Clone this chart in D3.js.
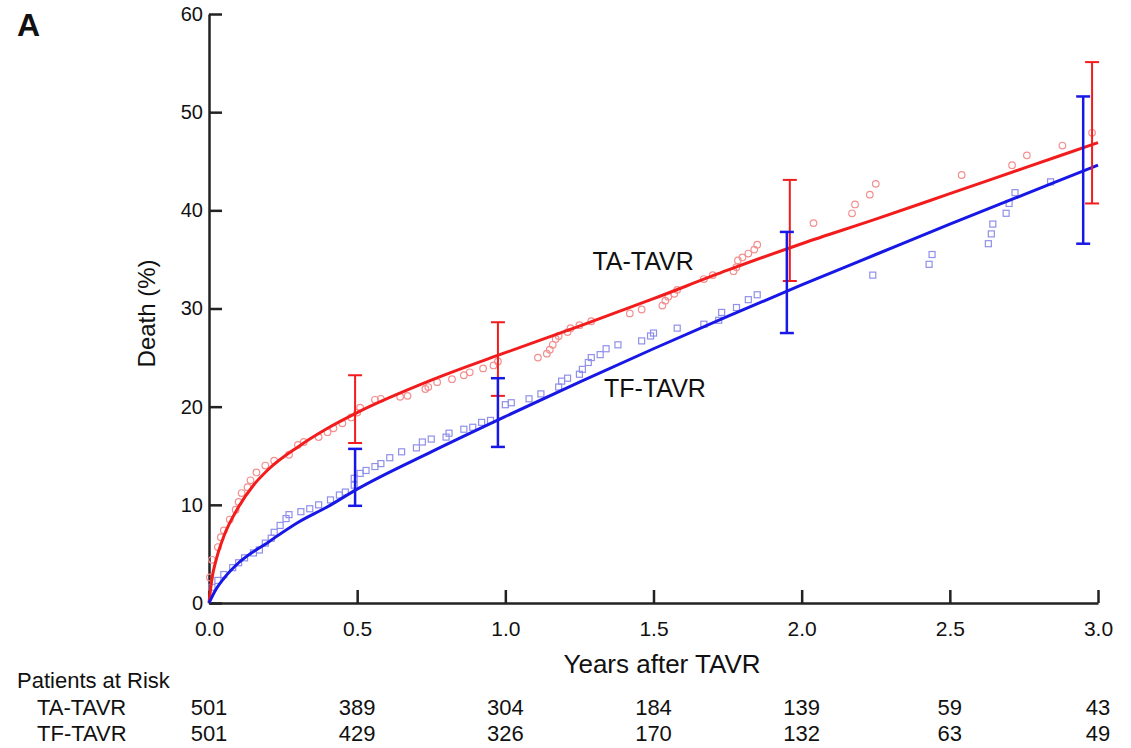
<!DOCTYPE html>
<html>
<head>
<meta charset="utf-8">
<script src="https://cdn.jsdelivr.net/npm/d3@7"></script>
<style>
  body { margin: 0; background: #fff; }
  svg { font-family: "Liberation Sans", Arial, sans-serif; }
</style>
</head>
<body>
<div class="chart"></div>
<script>
var svgWidth = 1131;
var svgHeight = 748;

var margin = { top: 14, right: 33, bottom: 145, left: 209 };
var width = svgWidth - margin.left - margin.right;
var height = svgHeight - margin.top - margin.bottom;

// fitted curves: [years, death %]
var taCurve = [[0,0],[0.01,2.5],[0.025,4.5],[0.05,6.8],[0.1,9.8],[0.15,12],[0.2,13.6],[0.3,15.9],
  [0.4,17.8],[0.5,19.4],[0.75,22.7],[1.0,25.5],[1.25,28.2],[1.5,31],[1.75,33.9],[2.0,36.6],
  [2.25,39.1],[2.5,41.7],[2.75,44.3],[3.0,46.9]];
var tfCurve = [[0,0],[0.02,1.2],[0.05,2.5],[0.1,4.1],[0.2,6.2],[0.3,8.2],[0.4,9.8],[0.5,11.6],
  [0.75,15.4],[1.0,19.0],[1.25,22.5],[1.5,25.9],[1.75,29.2],[2.0,32.4],[2.25,35.5],[2.5,38.6],
  [2.75,41.6],[3.0,44.6]];

// observed (Kaplan-Meier) points
var taPoints = [[0.003,2.6],[0.01,4.4],[0.03,5.7],[0.04,6.7],[0.05,7.4],[0.07,8.5],[0.09,9.5],
  [0.1,10.3],[0.11,11.2],[0.13,11.8],[0.14,12.5],[0.16,13.3],[0.19,14.0],[0.22,14.5],[0.27,15.1],
  [0.3,16.1],[0.32,16.4],[0.37,16.9],[0.4,17.4],[0.42,17.8],[0.45,18.3],[0.48,18.9],[0.5,19.4],
  [0.51,19.9],[0.56,20.7],[0.58,20.8],[0.645,21.0],[0.67,21.1],[0.73,21.8],[0.74,22.0],[0.77,22.5],
  [0.82,22.8],[0.86,23.2],[0.88,23.5],[0.925,23.9],[0.96,24.2],[0.975,24.6],[1.11,25.0],[1.14,25.4],
  [1.15,25.8],[1.16,26.3],[1.17,26.9],[1.18,27.2],[1.21,27.6],[1.22,28.0],[1.25,28.3],[1.29,28.7],
  [1.42,29.5],[1.46,29.9],[1.53,30.3],[1.54,30.8],[1.55,31.2],[1.57,31.5],[1.58,31.9],[1.67,33.0],
  [1.70,33.4],[1.77,33.8],[1.78,34.2],[1.785,34.9],[1.80,35.2],[1.82,35.6],[1.84,36.0],[1.85,36.5],
  [2.04,38.7],[2.17,39.7],[2.18,40.6],[2.23,41.6],[2.25,42.7],[2.54,43.6],[2.71,44.6],[2.76,45.6],
  [2.88,46.6],[2.98,47.9]];
var tfPoints = [[0.01,1.6],[0.03,2.3],[0.05,2.9],[0.08,3.6],[0.1,4.1],[0.12,4.6],[0.15,5.1],
  [0.17,5.4],[0.19,6.1],[0.21,6.6],[0.22,7.2],[0.24,7.9],[0.26,8.6],[0.27,9.0],[0.31,9.3],
  [0.34,9.6],[0.37,10.0],[0.41,10.5],[0.44,11.0],[0.46,11.3],[0.49,12.0],[0.49,12.7],[0.51,13.2],
  [0.53,13.5],[0.56,13.9],[0.58,14.2],[0.61,14.8],[0.65,15.4],[0.70,15.8],[0.72,16.4],[0.75,16.7],
  [0.80,16.9],[0.81,17.3],[0.86,17.7],[0.89,17.9],[0.92,18.4],[0.95,18.6],[1.0,20.2],[1.02,20.4],
  [1.08,20.8],[1.12,21.3],[1.18,22.0],[1.19,22.6],[1.21,22.9],[1.25,23.3],[1.26,23.8],[1.28,24.5],
  [1.29,25.0],[1.32,25.3],[1.34,25.9],[1.38,26.3],[1.46,26.7],[1.49,27.2],[1.50,27.5],[1.58,28.0],
  [1.67,28.4],[1.72,28.8],[1.73,29.6],[1.78,30.1],[1.82,30.9],[1.85,31.4],[2.24,33.4],[2.43,34.5],
  [2.44,35.5],[2.63,36.6],[2.64,37.6],[2.645,38.6],[2.69,39.7],[2.70,40.7],[2.72,41.8],[2.84,42.9]];

// confidence intervals: [years, low, high]
var taErr = [[0.493,16.3,23.2],[0.975,21.1,28.6],[1.96,32.8,43.1],[2.98,40.7,55.1]];
var tfErr = [[0.493,9.9,15.7],[0.975,15.9,22.9],[1.95,27.5,37.8],[2.95,36.6,51.6]];

var riskTimes = [0, 0.5, 1.0, 1.5, 2.0, 2.5, 3.0];
var taRisk = [501, 389, 304, 184, 139, 59, 43];
var tfRisk = [501, 429, 326, 170, 132, 63, 49];

var redLine = "#f21c1c", blueLine = "#1818e6";
var redPt = "#f29090", bluePt = "#9090ea";

var svg = d3.select(".chart")
  .append("svg")
  .attr("width", svgWidth)
  .attr("height", svgHeight);

var chartGroup = svg.append("g")
  .attr("transform", `translate(${margin.left}, ${margin.top})`);

var x = d3.scaleLinear().domain([0, 3]).range([0, width]);
var y = d3.scaleLinear().domain([0, 60]).range([height, 0]);

// axes with inward ticks
var xAxis = chartGroup.append("g")
  .attr("transform", `translate(0, ${height})`)
  .call(d3.axisBottom(x).tickValues(riskTimes).tickFormat(d3.format(".1f"))
    .tickSizeInner(-13).tickSizeOuter(0).tickPadding(18));

var yAxis = chartGroup.append("g")
  .call(d3.axisLeft(y).tickValues([0, 10, 20, 30, 40, 50, 60]).tickFormat(d3.format("d"))
    .tickSizeInner(-13).tickSizeOuter(0).tickPadding(6));

[xAxis, yAxis].forEach(function(ax) {
  ax.select(".domain").attr("stroke", "#222").attr("stroke-width", 2.5);
  ax.selectAll(".tick line").attr("stroke", "#222").attr("stroke-width", 2.5);
  ax.selectAll(".tick text").attr("fill", "#111");
});
xAxis.selectAll(".tick text").style("font-size", "21px");
yAxis.selectAll(".tick text").style("font-size", "20px");

// scatter points
chartGroup.append("g").selectAll("circle")
  .data(taPoints)
  .enter()
  .append("circle")
  .attr("cx", d => x(d[0]))
  .attr("cy", d => y(d[1]))
  .attr("r", 3.3)
  .attr("fill", "none")
  .attr("stroke", redPt)
  .attr("stroke-width", 1.2);

chartGroup.append("g").selectAll("rect")
  .data(tfPoints)
  .enter()
  .append("rect")
  .attr("x", d => x(d[0]) - 3)
  .attr("y", d => y(d[1]) - 3)
  .attr("width", 6)
  .attr("height", 6)
  .attr("fill", "none")
  .attr("stroke", bluePt)
  .attr("stroke-width", 1.2);

// fitted curves
var line = d3.line()
  .x(d => x(d[0]))
  .y(d => y(d[1]))
  .curve(d3.curveMonotoneX);

chartGroup.append("path").datum(taCurve)
  .attr("d", line).attr("fill", "none")
  .attr("stroke", redLine).attr("stroke-width", 3);

chartGroup.append("path").datum(tfCurve)
  .attr("d", line).attr("fill", "none")
  .attr("stroke", blueLine).attr("stroke-width", 3);

// error bars
function errorBars(data, color, sw) {
  var g = chartGroup.append("g").attr("stroke", color).attr("stroke-width", sw);
  data.forEach(function(d) {
    var cx = x(d[0]);
    g.append("line").attr("x1", cx).attr("x2", cx).attr("y1", y(d[1])).attr("y2", y(d[2]));
    g.append("line").attr("x1", cx - 7).attr("x2", cx + 7).attr("y1", y(d[1])).attr("y2", y(d[1]));
    g.append("line").attr("x1", cx - 7).attr("x2", cx + 7).attr("y1", y(d[2])).attr("y2", y(d[2]));
  });
}
errorBars(taErr, redLine, 2);
errorBars(tfErr, blueLine, 2.5);

// series labels
chartGroup.append("text")
  .attr("x", x(1.465)).attr("y", y(33.9))
  .attr("text-anchor", "middle")
  .style("font-size", "25px").attr("fill", "#111")
  .text("TA-TAVR");

chartGroup.append("text")
  .attr("x", x(1.505)).attr("y", y(21.0))
  .attr("text-anchor", "middle")
  .style("font-size", "25px").attr("fill", "#111")
  .text("TF-TAVR");

// axis titles
chartGroup.append("text")
  .attr("transform", "rotate(-90)")
  .attr("x", -(y(29.5)))
  .attr("y", -54)
  .attr("text-anchor", "middle")
  .style("font-size", "24px").attr("fill", "#111")
  .text("Death (%)");

svg.append("text")
  .attr("x", 662).attr("y", 673)
  .attr("text-anchor", "middle")
  .style("font-size", "26px").attr("fill", "#111")
  .text("Years after TAVR");

svg.append("text")
  .attr("x", 17).attr("y", 36)
  .style("font-size", "32px").style("font-weight", "bold").attr("fill", "#111")
  .text("A");

// patients at risk table
svg.append("text")
  .attr("x", 17).attr("y", 688)
  .style("font-size", "22px").attr("fill", "#111")
  .text("Patients at Risk");

var rows = [["TA-TAVR", taRisk, 715], ["TF-TAVR", tfRisk, 741]];
rows.forEach(function(r) {
  svg.append("text")
    .attr("x", 37).attr("y", r[2])
    .style("font-size", "22px").attr("fill", "#111")
    .text(r[0]);
  svg.append("g").selectAll("text")
    .data(r[1])
    .enter()
    .append("text")
    .attr("x", (d, i) => margin.left + x(riskTimes[i]))
    .attr("y", r[2])
    .attr("text-anchor", "middle")
    .style("font-size", "22px").attr("fill", "#111")
    .text(d => d);
});
</script>
</body>
</html>
